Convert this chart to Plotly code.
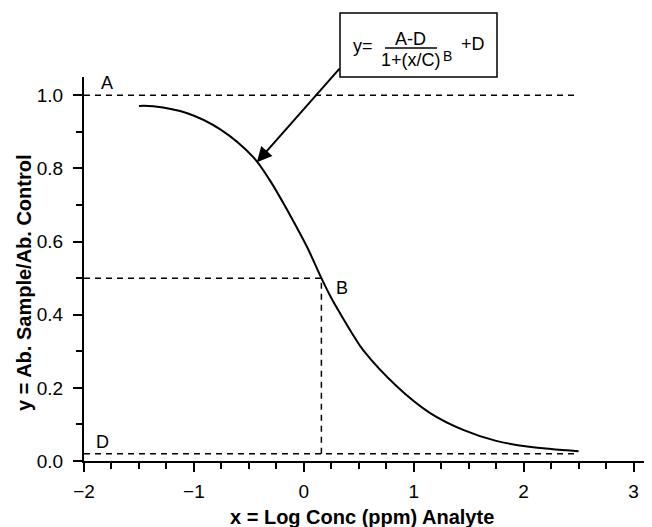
import plotly.graph_objects as go

# Curve points
curve_x = [-1.50, -1.37, -1.06, -0.76, -0.46, -0.31, -0.13, 0.03, 0.16, 0.26, 0.33,
           0.46, 0.54, 0.85, 1.15, 1.45, 1.75, 2.05, 2.50]
curve_y = [0.971, 0.970, 0.951, 0.907, 0.831, 0.768, 0.675, 0.585, 0.50, 0.44, 0.404,
           0.339, 0.303, 0.203, 0.131, 0.085, 0.055, 0.039, 0.027]

# Parameters of the 4PL markers
A_val = 1.0
D_val = 0.02
C_x = 0.16
B_y = 0.5
x_min, x_max_line = -2.0, 2.5

x_ticks = [-2, -1, 0, 1, 2, 3]
y_ticks = [0.0, 0.2, 0.4, 0.6, 0.8, 1.0]

# page body has an 8px margin, so the figure is a bit smaller than the window
OFF = 8
W, H = 644, 519
L, R, T, Bm = 76, 2, 69, 66
PW, PH = W - L - R, H - T - Bm

def px(x):
    return (x - OFF - L) / PW

def py(y):
    return (OFF + H - Bm - y) / PH

FONT = "Liberation Sans, Arial, Helvetica, sans-serif"
dash = "6px,5px"

fig = go.Figure()
line_kw = dict(color="black", width=1.5, dash=dash)
fig.add_trace(go.Scatter(x=[x_min, x_max_line], y=[A_val, A_val], mode="lines", line=line_kw))
fig.add_trace(go.Scatter(x=[x_min, x_max_line], y=[D_val, D_val], mode="lines", line=line_kw))
fig.add_trace(go.Scatter(x=[x_min, C_x, C_x], y=[B_y, B_y, D_val], mode="lines", line=line_kw))
fig.add_trace(go.Scatter(x=curve_x, y=curve_y, mode="lines",
                         line=dict(color="black", width=2, shape="spline", smoothing=1.0)))

fig.update_layout(
    width=W, height=H, showlegend=False,
    plot_bgcolor="white", paper_bgcolor="white",
    margin=dict(l=L, r=R, t=T, b=Bm),
    font=dict(family=FONT, color="black"),
)
fig.update_xaxes(
    range=[-2, 3.15], tickvals=x_ticks, showgrid=False, zeroline=False,
    showline=True, linecolor="black", linewidth=2,
    ticks="outside", ticklen=9, tickwidth=2, tickcolor="black",
    tickfont=dict(size=19), ticklabelstandoff=3,
    minor=dict(dtick=0.25, tick0=0, ticks="outside", ticklen=6, tickwidth=1.5,
               tickcolor="black", showgrid=False),
)
fig.update_yaxes(
    range=[0, 1.05], tickvals=y_ticks, tickformat=".1f", showgrid=False, zeroline=False,
    showline=True, linecolor="black", linewidth=2,
    ticks="outside", ticklen=9, tickwidth=2, tickcolor="black",
    tickfont=dict(size=19), ticklabelstandoff=6,
    minor=dict(dtick=0.1, tick0=0, ticks="outside", ticklen=6, tickwidth=1.5,
               tickcolor="black", showgrid=False),
)

def ptext(text, x, y, size=18, **kw):
    return dict(text=text, xref="paper", yref="paper", x=px(x), y=py(y),
                xanchor="center", yanchor="middle", showarrow=False,
                font=dict(size=size), **kw)

ann = []
# axis titles
ann.append(ptext("<b>x = Log Conc (ppm) Analyte</b>", 362, 517, size=20))
ann.append(ptext("<b>y = Ab. Sample/Ab. Control</b>", 24, 283, size=20, textangle=-90))
# letters
for t, x, y in [("A", -1.79, 1.033), ("B", 0.345, 0.473), ("C", 0.155, -0.038), ("D", -1.83, 0.052)]:
    ann.append(dict(text=t, x=x, y=y, xref="x", yref="y", xanchor="center", yanchor="middle",
                    showarrow=False, font=dict(size=18)))
# formula
ann.append(ptext("y=", 363, 46))
ann.append(ptext("A-D", 410, 39))
ann.append(ptext("1+(x/C)", 411, 60))
ann.append(ptext("B", 447, 56, size=14))
ann.append(ptext("+D", 473, 44))
# arrow
ann.append(dict(text="", x=-0.427, y=0.817, xref="x", yref="y", showarrow=True,
                ax=84, ay=-95, axref="pixel", ayref="pixel",
                arrowhead=2, arrowsize=1.5, arrowwidth=2, arrowcolor="black"))
fig.update_layout(annotations=ann)

fig.add_shape(type="rect", xref="paper", yref="paper", x0=px(340), x1=px(497), y0=py(77), y1=py(13),
              line=dict(color="black", width=1.5))
fig.add_shape(type="line", xref="paper", yref="paper", x0=px(385), x1=px(437), y0=py(48), y1=py(48),
              line=dict(color="black", width=1.5))

fig.write_html("out.html")
